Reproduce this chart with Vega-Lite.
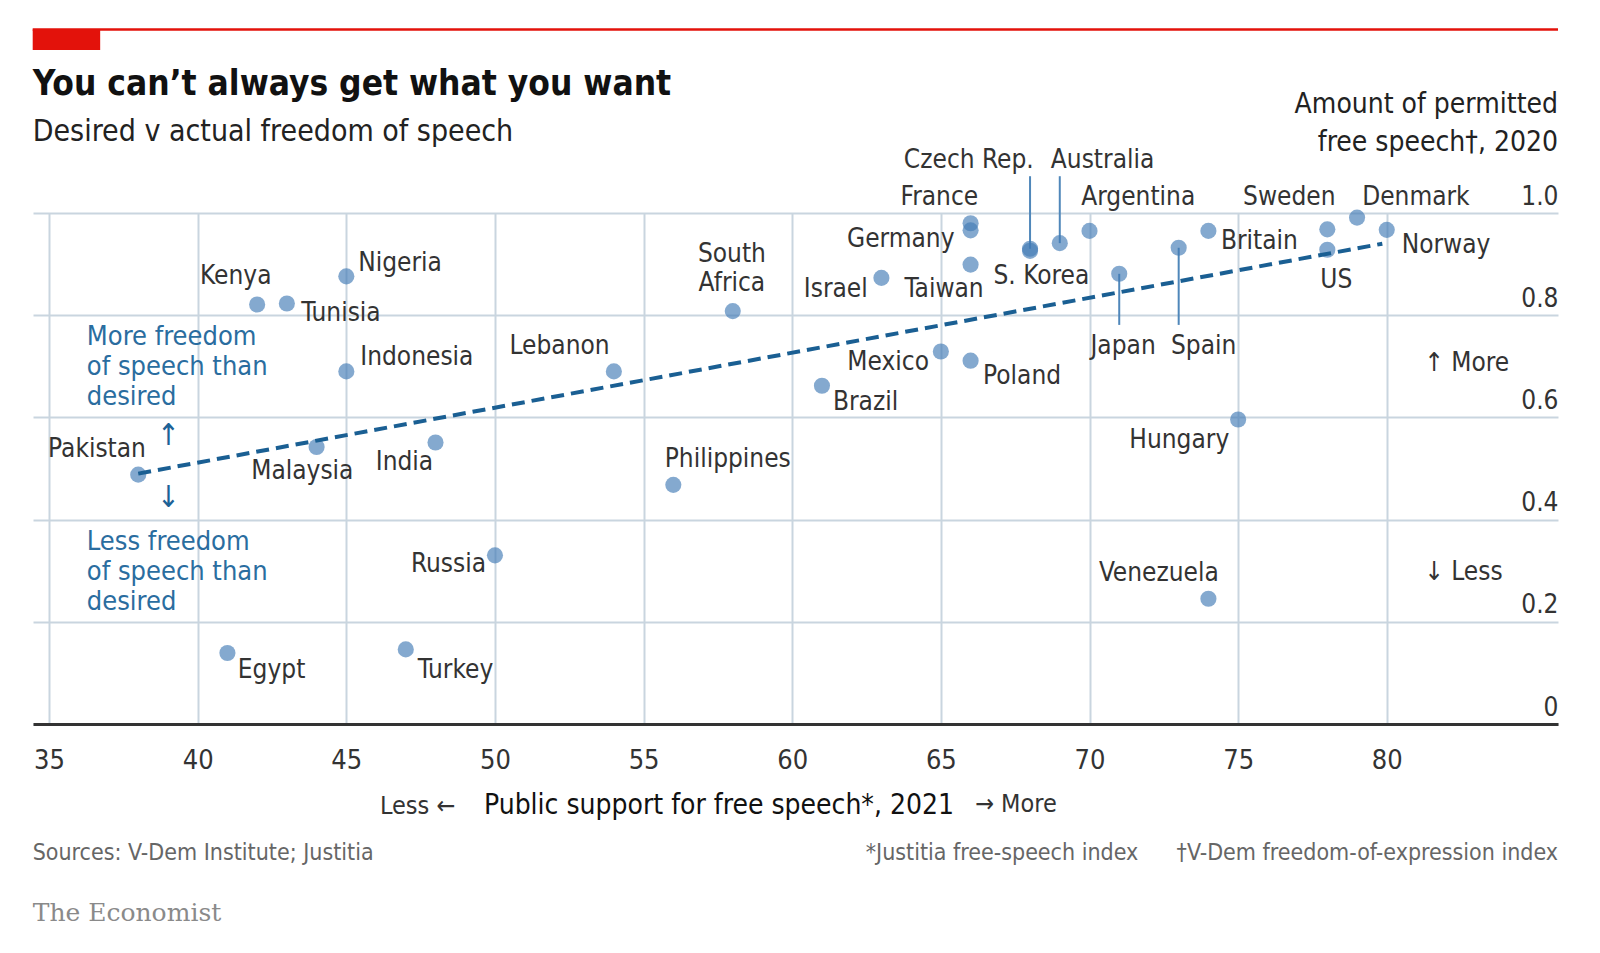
{
  "$schema": "https://vega.github.io/schema/vega-lite/v6.json",
  "autosize": "none",
  "width": 1525,
  "height": 511,
  "padding": {"left": 33, "top": 213, "right": 42, "bottom": 229},
  "background": "white",
  "config": {
    "font": "Liberation Sans Narrow, DejaVu Sans Condensed, Roboto",
    "view": {"stroke": null}
  },
  "datasets": {
    "countries": [
      {"country": "Pakistan", "support": 38, "permitted": 0.488},
      {"country": "Malaysia", "support": 44, "permitted": 0.542},
      {"country": "India", "support": 48, "permitted": 0.551},
      {"country": "Kenya", "support": 42, "permitted": 0.821},
      {"country": "Tunisia", "support": 43, "permitted": 0.823},
      {"country": "Nigeria", "support": 45, "permitted": 0.876},
      {"country": "Indonesia", "support": 45, "permitted": 0.690},
      {"country": "Egypt", "support": 41, "permitted": 0.139},
      {"country": "Turkey", "support": 47, "permitted": 0.146},
      {"country": "Russia", "support": 50, "permitted": 0.330},
      {"country": "Lebanon", "support": 54, "permitted": 0.690},
      {"country": "South Africa", "support": 58, "permitted": 0.808},
      {"country": "Philippines", "support": 56, "permitted": 0.468},
      {"country": "Brazil", "support": 61, "permitted": 0.662},
      {"country": "Mexico", "support": 65, "permitted": 0.729},
      {"country": "Poland", "support": 66, "permitted": 0.711},
      {"country": "Israel", "support": 63, "permitted": 0.873},
      {"country": "Taiwan", "support": 66, "permitted": 0.899},
      {"country": "Germany", "support": 66, "permitted": 0.966},
      {"country": "France", "support": 66, "permitted": 0.980},
      {"country": "Czech Rep.", "support": 68, "permitted": 0.930},
      {"country": "S. Korea", "support": 68, "permitted": 0.926},
      {"country": "Australia", "support": 69, "permitted": 0.941},
      {"country": "Argentina", "support": 70, "permitted": 0.965},
      {"country": "Japan", "support": 71, "permitted": 0.881},
      {"country": "Spain", "support": 73, "permitted": 0.932},
      {"country": "Britain", "support": 74, "permitted": 0.965},
      {"country": "Sweden", "support": 78, "permitted": 0.968},
      {"country": "US", "support": 78, "permitted": 0.928},
      {"country": "Denmark", "support": 79, "permitted": 0.991},
      {"country": "Norway", "support": 80, "permitted": 0.967},
      {"country": "Hungary", "support": 75, "permitted": 0.596},
      {"country": "Venezuela", "support": 74, "permitted": 0.245}
    ],
    "labels": [
      {"text": "Kenya", "lx": 40.08, "ly": 0.876, "side": "left"},
      {"text": "Tunisia", "lx": 43.48, "ly": 0.804, "side": "left"},
      {"text": "Nigeria", "lx": 45.4, "ly": 0.902, "side": "left"},
      {"text": "Indonesia", "lx": 45.47, "ly": 0.719, "side": "left"},
      {"text": "Malaysia", "lx": 41.8, "ly": 0.495, "side": "left"},
      {"text": "India", "lx": 45.99, "ly": 0.513, "side": "left"},
      {"text": "Lebanon", "lx": 50.49, "ly": 0.739, "side": "left"},
      {"text": "Philippines", "lx": 55.71, "ly": 0.519, "side": "left"},
      {"text": "Egypt", "lx": 41.35, "ly": 0.106, "side": "left"},
      {"text": "Turkey", "lx": 47.4, "ly": 0.106, "side": "left"},
      {"text": "Taiwan", "lx": 63.78, "ly": 0.852, "side": "left"},
      {"text": "Britain", "lx": 74.42, "ly": 0.946, "side": "left"},
      {"text": "Norway", "lx": 80.5, "ly": 0.938, "side": "left"},
      {"text": "Poland", "lx": 66.42, "ly": 0.681, "side": "left"},
      {"text": "Brazil", "lx": 61.37, "ly": 0.631, "side": "left"},
      {"text": "Pakistan", "lx": 38.26, "ly": 0.539, "side": "right"},
      {"text": "Russia", "lx": 49.7, "ly": 0.313, "side": "right"},
      {"text": "Israel", "lx": 62.54, "ly": 0.852, "side": "right"},
      {"text": "Germany", "lx": 65.46, "ly": 0.950, "side": "right"},
      {"text": "Mexico", "lx": 64.6, "ly": 0.709, "side": "right"},
      {"text": "Hungary", "lx": 74.7, "ly": 0.555, "side": "right"},
      {"text": "Venezuela", "lx": 74.35, "ly": 0.295, "side": "right"},
      {"text": "South\nAfrica", "lx": 57.97, "ly": 0.920, "side": "center"},
      {"text": "France", "lx": 64.95, "ly": 1.032, "side": "center"},
      {"text": "Czech Rep.", "lx": 65.94, "ly": 1.104, "side": "center"},
      {"text": "Australia", "lx": 70.44, "ly": 1.104, "side": "center"},
      {"text": "Argentina", "lx": 71.64, "ly": 1.032, "side": "center"},
      {"text": "S. Korea", "lx": 68.38, "ly": 0.876, "side": "center"},
      {"text": "Sweden", "lx": 76.72, "ly": 1.032, "side": "center"},
      {"text": "Denmark", "lx": 80.98, "ly": 1.032, "side": "center"},
      {"text": "US", "lx": 78.3, "ly": 0.868, "side": "center"},
      {"text": "Japan", "lx": 71.13, "ly": 0.740, "side": "center"},
      {"text": "Spain", "lx": 73.84, "ly": 0.740, "side": "center"}
    ]
  },
  "layer": [
    {
      "data": {"values": [{"x": 34.45, "x2": 85.76, "y": 1.359}]},
      "mark": {"type": "rule", "color": "#e3120b", "strokeWidth": 2.5, "clip": false},
      "encoding": {
        "x": {"field": "x", "type": "quantitative", "scale": {"domain": [34.46, 85.76], "nice": false, "zero": false},
          "axis": {"values": [35, 40, 45, 50, 55, 60, 65, 70, 75, 80], "grid": true, "gridColor": "#c9d5df", "gridWidth": 2, "domainColor": "#333333", "domainWidth": 3, "ticks": false, "labelFontSize": 27, "labelColor": "#333333", "labelPadding": 23, "labelBaseline": "top", "title": null}},
        "x2": {"field": "x2"},
        "y": {"field": "y", "type": "quantitative", "scale": {"domain": [0, 1], "nice": false, "zero": false},
          "axis": {"orient": "right", "values": [0, 0.2, 0.4, 0.6, 0.8, 1.0], "grid": true, "gridColor": "#c9d5df", "gridWidth": 2, "domain": false, "ticks": false, "tickSize": 0, "labelAlign": "right", "labelBaseline": "alphabetic", "labelOffset": -9, "labelPadding": 0, "labelFontSize": 26, "labelColor": "#333333", "labelExpr": "datum.value == 0 ? '0' : format(datum.value, '.1f')", "title": null}}
      }
    },
    {
      "data": {"values": [{"x": 34.45, "x2": 36.72, "y": 1.359, "y2": 1.319}]},
      "mark": {"type": "rect", "color": "#e3120b", "clip": false},
      "encoding": {
        "x": {"field": "x", "type": "quantitative"},
        "x2": {"field": "x2"},
        "y": {"field": "y", "type": "quantitative"},
        "y2": {"field": "y2"}
      }
    },
    {
      "data": {"values": [
        {"x": 68, "y": 0.93, "y2": 1.072},
        {"x": 69, "y": 0.941, "y2": 1.072},
        {"x": 71, "y": 0.881, "y2": 0.781},
        {"x": 73, "y": 0.932, "y2": 0.781}
      ]},
      "mark": {"type": "rule", "color": "#4f87ba", "strokeWidth": 2, "clip": false},
      "encoding": {
        "x": {"field": "x", "type": "quantitative"},
        "y": {"field": "y", "type": "quantitative"},
        "y2": {"field": "y2"}
      }
    },
    {
      "data": {"name": "countries"},
      "mark": {"type": "point", "filled": true, "size": 260, "color": "#427bb5", "opacity": 0.65, "clip": false},
      "encoding": {
        "x": {"field": "support", "type": "quantitative"},
        "y": {"field": "permitted", "type": "quantitative"}
      }
    },
    {
      "data": {"values": [{"x": 38, "y": 0.49}, {"x": 79.85, "y": 0.94}]},
      "mark": {"type": "line", "color": "#1a5f93", "strokeWidth": 4, "strokeDash": [13, 7]},
      "encoding": {
        "x": {"field": "x", "type": "quantitative"},
        "y": {"field": "y", "type": "quantitative"}
      }
    },
    {
      "data": {"name": "labels"},
      "transform": [{"filter": "datum.side == 'left'"}],
      "mark": {"type": "text", "align": "left", "baseline": "middle", "fontSize": 26, "color": "#333333", "clip": false},
      "encoding": {
        "x": {"field": "lx", "type": "quantitative"},
        "y": {"field": "ly", "type": "quantitative"},
        "text": {"field": "text"}
      }
    },
    {
      "data": {"name": "labels"},
      "transform": [{"filter": "datum.side == 'right'"}],
      "mark": {"type": "text", "align": "right", "baseline": "middle", "fontSize": 26, "color": "#333333", "clip": false},
      "encoding": {
        "x": {"field": "lx", "type": "quantitative"},
        "y": {"field": "ly", "type": "quantitative"},
        "text": {"field": "text"}
      }
    },
    {
      "data": {"name": "labels"},
      "transform": [{"filter": "datum.side == 'center'"}],
      "mark": {"type": "text", "align": "center", "baseline": "middle", "fontSize": 26, "color": "#333333", "lineBreak": "\n", "lineHeight": 29, "clip": false},
      "encoding": {
        "x": {"field": "lx", "type": "quantitative"},
        "y": {"field": "ly", "type": "quantitative"},
        "text": {"field": "text"}
      }
    },
    {
      "data": {"values": [
        {"text": "More freedom\nof speech than\ndesired", "lx": 36.27, "ly": 0.758},
        {"text": "Less freedom\nof speech than\ndesired", "lx": 36.27, "ly": 0.357}
      ]},
      "mark": {"type": "text", "align": "left", "baseline": "middle", "fontSize": 27, "color": "#2a6d9f", "lineBreak": "\n", "lineHeight": 30},
      "encoding": {
        "x": {"field": "lx", "type": "quantitative"},
        "y": {"field": "ly", "type": "quantitative"},
        "text": {"field": "text"}
      }
    },
    {
      "data": {"values": [
        {"text": "↑", "lx": 39.02, "ly": 0.563},
        {"text": "↓", "lx": 39.02, "ly": 0.443}
      ]},
      "mark": {"type": "text", "align": "center", "baseline": "middle", "fontSize": 30, "color": "#1d6296"},
      "encoding": {
        "x": {"field": "lx", "type": "quantitative"},
        "y": {"field": "ly", "type": "quantitative"},
        "text": {"field": "text"}
      }
    },
    {
      "data": {"values": [
        {"text": "↑ More", "lx": 81.26, "ly": 0.707},
        {"text": "↓ Less", "lx": 81.26, "ly": 0.297}
      ]},
      "mark": {"type": "text", "align": "left", "baseline": "middle", "fontSize": 26, "color": "#333333"},
      "encoding": {
        "x": {"field": "lx", "type": "quantitative"},
        "y": {"field": "ly", "type": "quantitative"},
        "text": {"field": "text"}
      }
    },
    {
      "data": {"values": [
        {"text": "Amount of permitted", "lx": 85.76, "ly": 1.2116},
        {"text": "free speech†, 2020", "lx": 85.76, "ly": 1.1377}
      ]},
      "mark": {"type": "text", "align": "right", "baseline": "middle", "fontSize": 28, "color": "#222222", "clip": false},
      "encoding": {
        "x": {"field": "lx", "type": "quantitative"},
        "y": {"field": "ly", "type": "quantitative"},
        "text": {"field": "text"}
      }
    },
    {
      "data": {"values": [{"text": "You can’t always get what you want", "lx": 34.45, "ly": 1.2515}]},
      "mark": {"type": "text", "align": "left", "baseline": "middle", "fontSize": 35, "fontWeight": "bold", "color": "#111111", "clip": false},
      "encoding": {
        "x": {"field": "lx", "type": "quantitative"},
        "y": {"field": "ly", "type": "quantitative"},
        "text": {"field": "text"}
      }
    },
    {
      "data": {"values": [{"text": "Desired v actual freedom of speech", "lx": 34.45, "ly": 1.1577}]},
      "mark": {"type": "text", "align": "left", "baseline": "middle", "fontSize": 30, "color": "#222222", "clip": false},
      "encoding": {
        "x": {"field": "lx", "type": "quantitative"},
        "y": {"field": "ly", "type": "quantitative"},
        "text": {"field": "text"}
      }
    },
    {
      "data": {"values": [
        {"text": "Less ←", "lx": 46.13, "ly": -0.1597},
        {"text": "→ More", "lx": 66.15, "ly": -0.1557}
      ]},
      "mark": {"type": "text", "align": "left", "baseline": "middle", "fontSize": 25, "color": "#333333", "clip": false},
      "encoding": {
        "x": {"field": "lx", "type": "quantitative"},
        "y": {"field": "ly", "type": "quantitative"},
        "text": {"field": "text"}
      }
    },
    {
      "data": {"values": [{"text": "Public support for free speech*, 2021", "lx": 49.63, "ly": -0.1597}]},
      "mark": {"type": "text", "align": "left", "baseline": "middle", "fontSize": 28, "color": "#111111", "clip": false},
      "encoding": {
        "x": {"field": "lx", "type": "quantitative"},
        "y": {"field": "ly", "type": "quantitative"},
        "text": {"field": "text"}
      }
    },
    {
      "data": {"values": [{"text": "Sources: V-Dem Institute; Justitia", "lx": 34.45, "ly": -0.2515}]},
      "mark": {"type": "text", "align": "left", "baseline": "middle", "fontSize": 23, "color": "#666666", "clip": false},
      "encoding": {
        "x": {"field": "lx", "type": "quantitative"},
        "y": {"field": "ly", "type": "quantitative"},
        "text": {"field": "text"}
      }
    },
    {
      "data": {"values": [
        {"text": "*Justitia free-speech index", "lx": 71.64, "ly": -0.2515},
        {"text": "†V-Dem freedom-of-expression index", "lx": 85.76, "ly": -0.2515}
      ]},
      "mark": {"type": "text", "align": "right", "baseline": "middle", "fontSize": 23, "color": "#666666", "clip": false},
      "encoding": {
        "x": {"field": "lx", "type": "quantitative"},
        "y": {"field": "ly", "type": "quantitative"},
        "text": {"field": "text"}
      }
    },
    {
      "data": {"values": [{"text": "The Economist", "lx": 34.45, "ly": -0.3693}]},
      "mark": {"type": "text", "align": "left", "baseline": "middle", "fontSize": 25, "font": "DejaVu Serif", "color": "#8a8a8a", "clip": false},
      "encoding": {
        "x": {"field": "lx", "type": "quantitative"},
        "y": {"field": "ly", "type": "quantitative"},
        "text": {"field": "text"}
      }
    }
  ]
}
